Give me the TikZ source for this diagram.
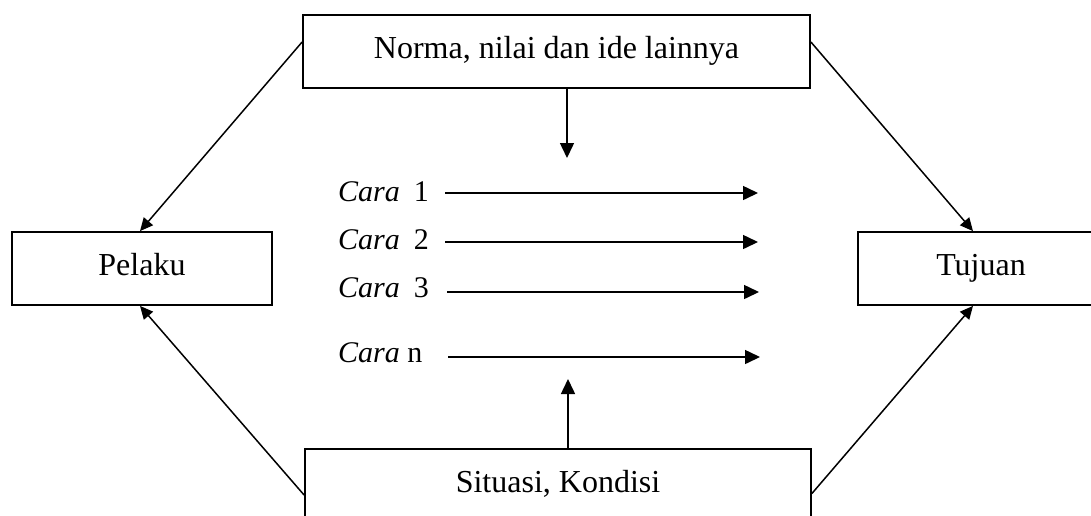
\documentclass[tikz,border=0pt]{standalone}
\usepackage{fontspec}
\setmainfont{Liberation Serif}
\usetikzlibrary{arrows.meta}
\tikzset{
  box/.style={draw, line width=1.8pt, minimum height=73pt, inner sep=0pt,
    text height=21pt, text depth=8pt, font=\fontsize{32}{38}\selectfont},
  caralabel/.style={anchor=west, inner sep=0pt, font=\fontsize{30}{36}\selectfont},
  arr/.style={line width=1.5pt, -{Triangle[length=15pt,width=14pt]}},
  darr/.style={line width=1.5pt, -{Triangle[length=13pt,width=12pt]}}
}
\begin{document}
\begin{tikzpicture}[x=1pt,y=-1pt]
\useasboundingbox (0,0) rectangle (1091,515);
\fill[white] (0,0) rectangle (1091,515);
\clip (0,0) rectangle (1091,515);
% boxes
\node[box, minimum width=507pt] (norma) at (556.5,51.5) {Norma, nilai dan ide lainnya};
\node[box, minimum width=260pt] (pelaku) at (142,268.5) {Pelaku};
\node[box, minimum width=246pt] (tujuan) at (981,268.5) {Tujuan};
\node[box, minimum width=506pt] (situasi) at (558,485.5) {Situasi, Kondisi};
% diagonal connectors
\draw[darr] ([yshift=9.5pt]norma.west) -- ([xshift=-2pt]pelaku.north);
\draw[darr] ([yshift=9.5pt]norma.east) -- ([xshift=-8pt]tujuan.north);
\draw[darr] ([yshift=-9.5pt]situasi.west) -- ([xshift=-2pt]pelaku.south);
\draw[darr] ([yshift=-8pt]situasi.east) -- ([xshift=-8pt]tujuan.south);
% vertical arrows
\coordinate (dtip) at (567,158);
\coordinate (utip) at (568,379);
\draw[arr] (norma.south -| dtip) -- (dtip);
\draw[arr] (situasi.north -| utip) -- (utip);
% cara labels
\node[caralabel] (c1) at (338,192) {\textit{Cara}\hspace{14pt}1};
\node[caralabel] (c2) at (338,240) {\textit{Cara}\hspace{14pt}2};
\node[caralabel] (c3) at (338,288) {\textit{Cara}\hspace{14pt}3};
\node[caralabel] (cn) at (338,353) {\textit{Cara} n};
\coordinate (s1) at (445,193); \coordinate (e1) at (758,193);
\coordinate (s2) at (445,242); \coordinate (e2) at (758,242);
\coordinate (s3) at (447,292); \coordinate (e3) at (759,292);
\coordinate (s4) at (448,357); \coordinate (e4) at (760,357);
\draw[arr] (s1) -- (e1);
\draw[arr] (s2) -- (e2);
\draw[arr] (s3) -- (e3);
\draw[arr] (s4) -- (e4);
\end{tikzpicture}
\end{document}
